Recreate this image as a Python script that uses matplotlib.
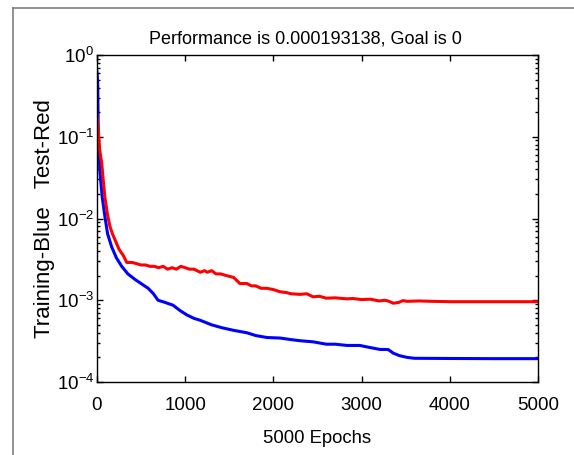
import matplotlib
matplotlib.use('Agg')
import matplotlib.pyplot as plt
from matplotlib.lines import Line2D
from matplotlib.ticker import LogLocator, NullFormatter

plt.rcParams['font.family'] = ['Liberation Sans', 'DejaVu Sans']
plt.rcParams['mathtext.fontset'] = 'custom'
plt.rcParams['mathtext.rm'] = 'Liberation Sans'
plt.rcParams['mathtext.it'] = 'Liberation Sans'

# training (blue) performance
train_epochs = [0, 8, 15, 34, 60, 90, 120, 166, 220, 280, 350, 430, 500, 580, 640,
                692, 760, 862, 940, 1020, 1100, 1168, 1300, 1420, 1542, 1700, 1800,
                1927, 2075, 2200, 2300, 2450, 2600, 2700, 2835, 2980, 3050, 3210,
                3300, 3360, 3430, 3515, 3600, 4000, 4500, 5000]
train_perf = [0.62, 0.45, 0.091, 0.036, 0.018, 0.0105, 0.0065, 0.0045, 0.0033, 0.0026,
              0.0021, 0.0018, 0.0016, 0.0014, 0.0012, 0.0010, 0.00095, 0.00087,
              0.00075, 0.00066, 0.0006, 0.00057, 0.0005, 0.00046, 0.00043, 0.0004,
              0.00037, 0.00035, 0.000345, 0.00033, 0.00032, 0.00031, 0.00029,
              0.00029, 0.00028, 0.00028, 0.00027, 0.00025, 0.00025, 0.000225,
              0.00021, 0.0002, 0.000195, 0.000194, 0.000193, 0.000193]

# test (red) performance
test_epochs = [0, 15, 30, 53, 70, 90, 120, 147, 175, 204, 250, 300, 337, 400, 450,
               500, 550, 600, 650, 700, 750, 800, 850, 900, 950, 1000, 1050, 1100,
               1170, 1220, 1250, 1300, 1350, 1400, 1470, 1550, 1620, 1700, 1750,
               1800, 1860, 1925, 2000, 2075, 2150, 2200, 2300, 2380, 2450, 2520,
               2600, 2700, 2835, 2900, 3000, 3100, 3200, 3260, 3300, 3360, 3420,
               3470, 3515, 3650, 3800, 4000, 5000]
test_perf = [0.18, 0.12, 0.07, 0.048, 0.03, 0.018, 0.011, 0.008, 0.0065, 0.0055,
             0.0042, 0.0035, 0.0029, 0.0029, 0.0028, 0.0027, 0.0027, 0.0026, 0.0026,
             0.0025, 0.0026, 0.0024, 0.0025, 0.0024, 0.0026, 0.0025, 0.0024, 0.0024,
             0.0022, 0.0023, 0.0022, 0.0023, 0.0021, 0.0021, 0.0020, 0.0019, 0.0016,
             0.0016, 0.0015, 0.0015, 0.0014, 0.0014, 0.00135, 0.00127, 0.00124,
             0.0012, 0.00118, 0.0012, 0.0011, 0.00112, 0.00106, 0.00107, 0.00104,
             0.00105, 0.00102, 0.00103, 0.00098, 0.001, 0.00098, 0.00092, 0.00094,
             0.00099, 0.00097, 0.00098, 0.00097, 0.00096, 0.00096]

fig = plt.figure(figsize=(5.74, 4.55), dpi=100)
ax = fig.add_axes([97/574, 1 - 382/455, 441/574, 327/455])

ax.plot(train_epochs, train_perf, color='#0000ff', lw=2.2)
ax.plot(test_epochs, test_perf, color='#ff0000', lw=2.2)

ax.set_yscale('log')
ax.set_xlim(0, 5000)
ax.set_ylim(1e-4, 1)
ax.set_xticks(range(0, 5001, 1000))
ax.yaxis.set_major_locator(LogLocator(base=10, numticks=10))
ax.yaxis.set_minor_locator(LogLocator(base=10, subs=range(2, 10), numticks=10))
ax.yaxis.set_minor_formatter(NullFormatter())
ax.tick_params(which='both', direction='in', top=True, right=True, labelsize=13.5)
ax.tick_params(which='major', length=4, width=1)
ax.tick_params(which='minor', length=2.5, width=1)
ax.tick_params(axis='x', pad=11)
ax.tick_params(axis='y', pad=2)
for s in ax.spines.values():
    s.set_linewidth(1.0)

ax.set_title('Performance is 0.000193138, Goal is 0', fontsize=13, pad=8, x=0.472)
ax.set_xlabel('5000 Epochs', fontsize=13.3, labelpad=11)
ax.set_ylabel('Training-Blue   Test-Red', fontsize=16, labelpad=1)

# grey frame lines at top and left of the figure
fig.add_artist(Line2D([13/574, 1], [1 - 8/455, 1 - 8/455], color='#808080', lw=1.2))
fig.add_artist(Line2D([13/574, 13/574], [0, 1 - 8/455], color='#808080', lw=1.2))

fig.savefig('out.png', dpi=100)
